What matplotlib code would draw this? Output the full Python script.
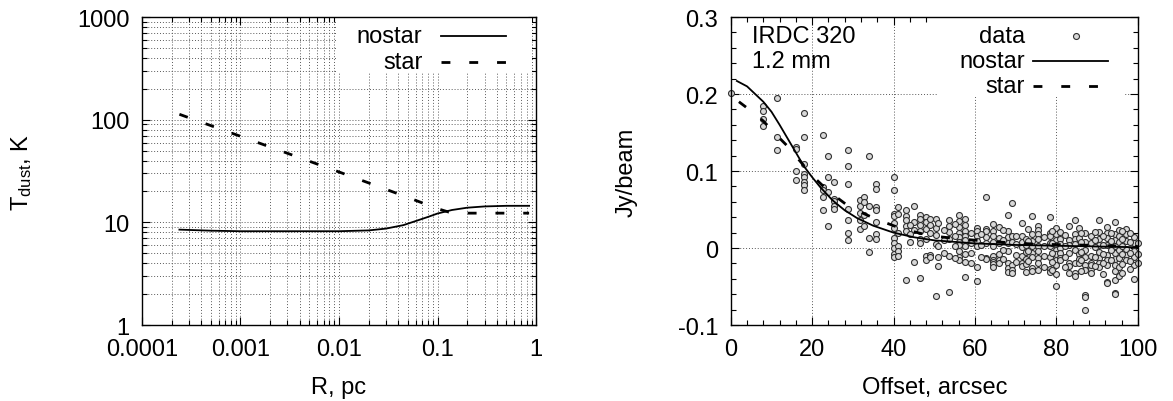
import numpy as np
import matplotlib
matplotlib.use('Agg')
import matplotlib.pyplot as plt
from matplotlib.patches import Rectangle
from matplotlib.ticker import FixedLocator, NullFormatter

plt.rcParams['font.family'] = ['Liberation Sans', 'DejaVu Sans']
plt.rcParams['mathtext.fontset'] = 'custom'
plt.rcParams['mathtext.rm'] = 'Liberation Sans'
plt.rcParams['mathtext.it'] = 'Liberation Sans'

# left panel: dust temperature profiles
r_nostar = [2.4e-4, 5e-4, 1e-3, 3e-3, 0.01, 0.02, 0.03, 0.045, 0.06, 0.08,
            0.1, 0.14, 0.2, 0.3, 0.5, 0.85]
t_nostar = [8.5, 8.3, 8.2, 8.2, 8.2, 8.35, 8.7, 9.4, 10.3, 11.3,
            12.2, 13.2, 13.9, 14.3, 14.5, 14.5]
r_star = [2.4e-4, 1e-3, 0.01, 0.05, 0.1, 0.13, 0.18, 0.3, 0.85]
t_star = [113, 69, 31, 17.5, 13.6, 12.6, 12.3, 12.3, 12.3]

# right panel: 1.2 mm intensity profile
off_nostar = [1.5, 4, 8, 10, 12, 14, 16, 18, 20, 22, 25, 28, 31, 35, 40,
              45, 50, 60, 70, 80, 90, 100]
i_nostar = [0.217, 0.210, 0.19, 0.177, 0.160, 0.142, 0.124, 0.106, 0.092,
            0.079, 0.062, 0.049, 0.039, 0.029, 0.020, 0.014, 0.010, 0.006,
            0.004, 0.003, 0.002, 0.001]
off_star = [2, 5, 8, 11, 14, 17, 20, 23, 26, 29, 33, 36, 42, 49, 56, 65,
            75, 85, 100]
i_star = [0.19, 0.178, 0.165, 0.148, 0.132, 0.113, 0.094, 0.079, 0.066,
          0.054, 0.044, 0.037, 0.025, 0.016, 0.012, 0.008, 0.005, 0.004, 0.002]

# observed points, grouped by offset column
data_offsets = [0, 8, 11.3, 16, 18, 22.6, 24, 25.3, 28.8, 31.8, 32.7, 34,
                35.8, 40, 41, 43, 45, 46.5, 48, 49, 50.5, 51, 53.5, 56, 57.5,
                60.5, 62.8, 64.5, 66, 68, 69, 71.5, 72.5, 74, 75.5, 78.5, 80,
                81, 83, 84.5, 85.5, 87, 88.5, 90.5, 92.5, 94.5, 95.5, 97, 99,
                44, 52.5, 55, 59, 61.5, 67, 70, 73, 77, 79, 82, 86, 89.5,
                91.5, 93.5, 96, 98, 100]
data_columns = [
    [0.201],
    [0.184, 0.178, 0.168, 0.158],
    [0.195, 0.144, 0.127],
    [0.131, 0.129, 0.100, 0.088],
    [0.175, 0.144, 0.109, 0.096, 0.092, 0.086, 0.082, 0.075],
    [0.147, 0.079, 0.075, 0.066, 0.049],
    [0.120, 0.092, 0.073, 0.028],
    [0.086, 0.064, 0.061, 0.055, 0.051],
    [0.128, 0.107, 0.083, 0.051, 0.037, 0.019, 0.010],
    [0.062, 0.055, 0.046, 0.036, 0.025],
    [0.066, 0.060, 0.043, 0.028],
    [0.120, 0.054, 0.013, -0.005],
    [0.083, 0.077, 0.053, 0.050, 0.034, 0.018, 0.012],
    [0.092, 0.075, 0.044, 0.041, 0.033, 0.026, 0.013, 0.006, 0.000, -0.008, -0.012],
    [0.053, 0.044, 0.020, 0.002, -0.004, -0.010],
    [0.049, 0.041, 0.036, 0.029, 0.022, -0.041],
    [0.055, 0.034, 0.024, -0.018],
    [0.043, 0.038, 0.030, 0.022, 0.012, 0.006, -0.039],
    [0.040, 0.034, 0.025, 0.012, -0.010, -0.016],
    [0.038, 0.030, 0.020, -0.009, -0.012],
    [0.038, 0.026, 0.017, 0.005, -0.062],
    [0.032, 0.003, -0.012, -0.023],
    [0.037, 0.028, 0.021, 0.012, -0.010, -0.057],
    [0.043, 0.035, 0.027, 0.020, 0.014, 0.008, 0.004, -0.004, -0.011, -0.016],
    [0.038, 0.030, 0.022, 0.015, 0.010, 0.002, -0.008, -0.018, -0.038],
    [0.026, 0.022, 0.016, 0.009, 0.002, -0.025, -0.043],
    [0.066, 0.025, 0.022, 0.014, 0.006, -0.013, -0.014],
    [0.031, 0.022, 0.015, 0.008, 0.002, -0.010, -0.016, -0.018, -0.021, -0.024],
    [0.027, 0.013, 0.006, -0.008, -0.016, -0.019],
    [0.043, 0.022, 0.014, 0.006, -0.004, -0.020, -0.026, -0.031],
    [0.059, 0.015, 0.008, -0.022, -0.029, -0.033],
    [0.032, 0.015, 0.008, 0.001, -0.010, -0.020, -0.023],
    [0.012, 0.004, -0.005, -0.014, -0.021, -0.031],
    [0.041, 0.018, 0.009, 0.002, -0.007, -0.012, -0.026, -0.030],
    [0.028, 0.024, 0.018, 0.012, 0.003, -0.004, -0.013, -0.020, -0.028],
    [0.040, 0.020, 0.015, 0.006, 0.002, -0.011, -0.027, -0.031],
    [0.026, 0.018, 0.011, 0.004, -0.003, -0.008, -0.015, -0.022, -0.034, -0.049],
    [0.021, 0.012, 0.005, 0.000, -0.006, -0.013, -0.016],
    [0.028, 0.010, 0.004, -0.007, -0.019, -0.023, -0.032],
    [0.036, 0.018, 0.012, 0.005, -0.003, -0.019, -0.033, -0.036],
    [0.026, 0.013, -0.008, -0.014, -0.020],
    [0.020, 0.008, -0.002, -0.011, -0.022, -0.029, -0.061, -0.064, -0.081],
    [0.015, 0.006, -0.010, -0.020, -0.027, -0.032, -0.022],
    [0.036, 0.021, 0.012, 0.004, -0.005, -0.013, -0.019, -0.024],
    [0.027, 0.020, 0.013, 0.004, -0.009, -0.016, -0.022, -0.044, -0.046],
    [0.034, 0.018, 0.010, 0.002, -0.006, -0.014, -0.022, -0.030, -0.041, -0.058, -0.060],
    [0.024, 0.016, 0.008, -0.003, -0.013, -0.024, -0.036],
    [0.025, 0.018, 0.009, -0.001, -0.009, -0.016],
    [0.014, 0.006, -0.004, -0.011, -0.019, -0.022, -0.040],
    [0.030, 0.018, 0.008],
    [0.024, 0.010, -0.006],
    [0.031, 0.016, 0.002, -0.013],
    [0.020, 0.007, -0.007, -0.020],
    [0.018, 0.004, -0.012],
    [0.024, 0.010, -0.002, -0.014],
    [0.016, 0.005, -0.009, -0.018],
    [0.025, 0.009, -0.004, -0.017],
    [0.014, 0.003, -0.010, -0.024],
    [0.022, 0.007, -0.006, -0.018, -0.028],
    [0.017, 0.002, -0.011, -0.025],
    [0.019, 0.008, -0.005, -0.016, -0.030],
    [0.021, 0.011, 0.001, -0.012, -0.023],
    [0.016, 0.004, -0.008, -0.019, -0.034],
    [0.019, 0.009, -0.003, -0.015],
    [0.022, 0.012, 0.003, -0.008, -0.021, -0.032],
    [0.020, 0.008, -0.006, -0.017, -0.027],
    [0.006, -0.008, -0.020],
]

FS = 17
GRID = dict(color='0.35', linestyle=(0, (1, 2)), linewidth=0.7)
STAR_DASH = (3.2, 6.8)
PT = dict(linestyle='none', marker='o', ms=4.3, mfc='#d8d8d8', mec='#303030',
          mew=0.8)

fig = plt.figure(figsize=(11.73, 4.02), dpi=100)
ax1 = fig.add_axes([0.121, 0.189, 0.336, 0.766])
ax2 = fig.add_axes([0.623, 0.189, 0.347, 0.766])

for ax in (ax1, ax2):
    ax.set_axisbelow(True)
    ax.tick_params(which='both', direction='in', top=True, right=True,
                   labelsize=FS, pad=9, width=0.8)
    ax.tick_params(which='major', length=6)
    ax.tick_params(which='minor', length=3.5)
    for s in ax.spines.values():
        s.set_linewidth(1.0)

# ---- left panel
ax1.set_xscale('log')
ax1.set_yscale('log')
ax1.set_xlim(1e-4, 1)
ax1.set_ylim(1, 1000)
ax1.set_xticks([1e-4, 1e-3, 1e-2, 1e-1, 1], ['0.0001', '0.001', '0.01', '0.1', '1'])
ax1.set_yticks([1, 10, 100, 1000], ['1', '10', '100', '1000'])
ax1.xaxis.set_minor_formatter(NullFormatter())
ax1.yaxis.set_minor_formatter(NullFormatter())
ax1.grid(True, which='both', **GRID)

ax1.plot(r_nostar, t_nostar, color='black', lw=1.3, zorder=3)
ax1.plot(r_star, t_star, color='black', lw=2.0, dashes=STAR_DASH, zorder=3)

ax1.add_patch(Rectangle((0.494, 0.821), 0.496, 0.179, transform=ax1.transAxes,
                        facecolor='white', edgecolor='none', zorder=1))
ax1.text(0.712, 0.937, 'nostar', transform=ax1.transAxes, fontsize=FS,
         ha='right', va='center', zorder=4)
ax1.text(0.712, 0.854, 'star', transform=ax1.transAxes, fontsize=FS,
         ha='right', va='center', zorder=4)
ax1.plot([0.759, 0.924], [0.937, 0.937], transform=ax1.transAxes,
         color='black', lw=1.3, zorder=4)
ax1.plot([0.759, 0.924], [0.854, 0.854], transform=ax1.transAxes,
         color='black', lw=2.0, dashes=STAR_DASH, zorder=4)

ax1.set_xlabel('R, pc', fontsize=FS)
ax1.set_ylabel(r'T$_{\rm dust}$, K', fontsize=FS)
ax1.xaxis.set_label_coords(0.5, -0.165)
ax1.yaxis.set_label_coords(-0.275, 0.5)

# ---- right panel
data_x = [x for x, col in zip(data_offsets, data_columns) for _ in col]
data_y = [y for col in data_columns for y in col]

ax2.set_xlim(0, 100)
ax2.set_ylim(-0.1, 0.3)
ax2.set_xticks([0, 20, 40, 60, 80, 100], ['0', '20', '40', '60', '80', '100'])
ax2.set_yticks([-0.1, 0, 0.1, 0.2, 0.3], ['-0.1', '0', '0.1', '0.2', '0.3'])
ax2.xaxis.set_minor_locator(FixedLocator(np.arange(0, 101, 4)))
ax2.yaxis.set_minor_locator(FixedLocator(np.arange(-0.1, 0.301, 0.02)))
ax2.grid(True, which='major', **GRID)

ax2.plot(data_x, data_y, zorder=2, clip_on=False, **PT)
ax2.plot(off_nostar, i_nostar, color='black', lw=1.3, zorder=3)
ax2.plot(off_star, i_star, color='black', lw=2.0, dashes=STAR_DASH, zorder=3)

ax2.add_patch(Rectangle((0.509, 0.745), 0.458, 0.255, transform=ax2.transAxes,
                        facecolor='white', edgecolor='none', zorder=1))
for yy, lab in zip([0.938, 0.857, 0.776], ['data', 'nostar', 'star']):
    ax2.text(0.722, yy, lab, transform=ax2.transAxes, fontsize=FS,
             ha='right', va='center', zorder=4)
ax2.plot([0.847], [0.938], transform=ax2.transAxes, zorder=4, **PT)
ax2.plot([0.742, 0.926], [0.857, 0.857], transform=ax2.transAxes,
         color='black', lw=1.3, zorder=4)
ax2.plot([0.742, 0.926], [0.776, 0.776], transform=ax2.transAxes,
         color='black', lw=2.0, dashes=STAR_DASH, zorder=4)
ax2.text(0.051, 0.938, 'IRDC 320', transform=ax2.transAxes, fontsize=FS,
         ha='left', va='center', zorder=4)
ax2.text(0.051, 0.857, '1.2 mm', transform=ax2.transAxes, fontsize=FS,
         ha='left', va='center', zorder=4)

ax2.set_xlabel('Offset, arcsec', fontsize=FS)
ax2.set_ylabel('Jy/beam', fontsize=FS)
ax2.xaxis.set_label_coords(0.5, -0.165)
ax2.yaxis.set_label_coords(-0.228, 0.5)

fig.savefig('out.png', dpi=100)
